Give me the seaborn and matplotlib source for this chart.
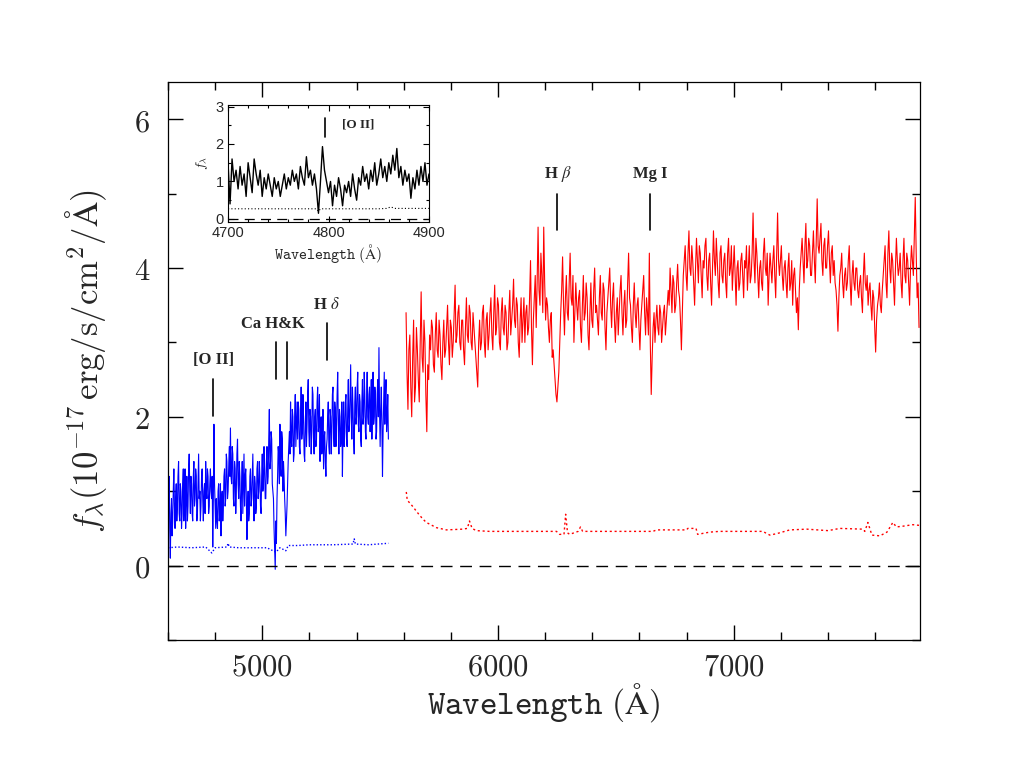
import numpy as np
import pandas as pd
import matplotlib
matplotlib.use("Agg")
import matplotlib.pyplot as plt
from matplotlib.ticker import MultipleLocator, FuncFormatter
import seaborn as sns

# ---------------- data ----------------
# blue arm: samples every 5 A from 4600, plus the samples half-way between them
blue_start, blue_step = 4600, 5
blue_flux = [
    0.3, 1.2, 0.1, 0.9, 0.6, 1.3, 0.5, 1.1, 0.8, 1.4, 0.6, 1.0, 0.7, 1.3, 0.9, 0.5, 1.2, 0.8, 1.5, 0.7,
    1.1, 0.6, 1.4, 0.9, 1.2, 0.7, 1.5, 1.0, 0.8, 1.3, 0.6, 1.1, 1.4, 0.9, 1.2, 0.8, 1.3,
    0.9, 0.25, 1.9, 0.8,
    0.9, 0.5, 1.1, 0.7, 0.4, 1.0, 0.8, 1.3, 0.9, 1.4, 1.0, 1.6,
    1.85, 1.1, 1.5, 0.8, 1.3, 1.0, 1.7, 0.9, 1.2, 0.6, 1.4, 1.1, 0.8, 1.3,
    0.35, 1.0, 0.7, 1.3, 0.9, 1.5, 0.6, 1.1, 0.8, 1.4, 1.0, 1.2, 0.7, 1.5, 1.1, 1.3, 0.9, 1.6, 1.2,
    2.1, 1.4, 1.7, 1.0,
    0.5, -0.05, 0.3, 1.2,
    1.5, 1.9, 1.2, 1.7, 1.4, 0.9,
    0.4, 0.8, 1.4,
    1.8, 2.2, 1.6, 2.0, 1.5, 2.3, 1.9,
    1.7, 2.1, 1.5, 2.4, 1.8, 2.0, 1.4, 2.2, 1.9, 2.5,
    1.6, 2.0, 1.8, 2.3, 1.5, 2.1, 1.7, 2.4, 1.9, 1.4,
    2.0, 1.6, 1.3, 1.8, 1.2, 1.7, 2.2, 1.5, 2.0, 1.8,
    2.4, 1.6, 2.1, 1.9, 2.6, 1.5, 2.0, 1.7, 1.2, 2.2,
    1.8, 2.3, 1.6, 2.5, 1.9, 2.7, 1.7, 2.1, 1.5, 2.4,
    2.0, 2.6, 1.8, 2.2, 1.6, 2.5, 2.0, 2.3, 1.7, 2.6,
    1.9, 2.4, 2.1, 1.7, 2.6, 2.0, 2.3, 1.8, 2.5, 2.93,
    1.6, 2.4, 1.2, 2.2, 1.9, 2.5, 2.0, 1.7,
]
blue_flux_mid = [
    0.9, 0.5, 0.7, 0.4, 1.0, 0.8, 0.9, 0.6, 1.2, 0.7, 1.1, 0.5, 1.1, 0.6, 1.3, 0.9, 0.6, 1.3, 1.0, 1.2,
    0.7, 1.2, 0.8, 1.3, 0.6, 1.1, 0.9, 0.6, 1.2, 0.9, 1.0, 0.7, 1.0, 1.3, 0.7, 1.1, 1.0,
    1.2, 0.9, 1.1, 0.5,
    0.6, 1.0, 0.6, 1.1, 0.9, 0.6, 1.2, 0.8, 1.5, 0.9, 1.3, 1.2,
    1.2, 1.6, 0.9, 1.4, 0.7, 1.5, 1.1, 1.4, 0.8, 1.1, 0.7, 1.5, 1.2, 0.9,
    0.8, 0.6, 1.2, 0.8, 1.2, 0.9, 1.2, 0.7, 1.3, 0.9, 1.4, 0.8, 1.2, 1.0, 1.6, 0.9, 1.4, 1.1, 1.7,
    1.3, 1.8, 1.1, 0.9,
    0.2, 0.6, 0.9, 1.6,
    1.1, 1.3, 1.8, 1.0, 1.2, 0.7,
    0.6, 1.1, 1.6,
    1.5, 1.7, 2.1, 1.4, 2.0, 1.6, 2.2,
    2.2, 1.6, 2.0, 1.7, 2.3, 1.5, 1.9, 1.6, 2.3, 1.8,
    2.1, 1.5, 2.4, 1.7, 2.0, 1.6, 2.2, 1.8, 2.3, 1.9,
    1.5, 2.1, 1.7, 1.4, 1.6, 2.0, 1.6, 2.1, 1.5, 2.3,
    1.8, 2.2, 1.6, 2.3, 1.9, 2.1, 1.6, 2.2, 1.8, 1.6,
    2.2, 1.7, 2.1, 1.8, 2.3, 2.0, 2.4, 1.7, 2.2, 1.9,
    2.4, 1.9, 2.3, 1.7, 2.2, 1.9, 2.6, 1.8, 2.2, 2.0,
    2.3, 1.8, 2.5, 2.2, 1.9, 2.4, 1.7, 2.3, 2.0, 2.1,
    2.1, 1.9, 1.8, 2.6, 2.3, 1.8, 2.3,
]

blue_err_wave = [4600, 4640, 4700, 4760, 4786, 4800, 4850, 4855, 4860, 4900, 4960, 5020,
                 5058, 5075, 5100, 5110, 5150, 5200, 5300, 5385, 5390, 5395, 5450, 5535]
blue_err = [0.24, 0.25, 0.24, 0.25, 0.17, 0.24, 0.25, 0.3, 0.25, 0.24, 0.24, 0.24,
            0.18, 0.24, 0.20, 0.27, 0.27, 0.28, 0.28, 0.29, 0.36, 0.29, 0.28, 0.30]

# red arm: samples every 8 A from 5610, plus the samples half-way between them
red_start, red_step = 5610, 8
red_flux = [
    3.4, 2.1, 3.1, 2.0, 3.3, 2.4, 2.9, 2.2, 3.68, 2.6, 3.0, 1.8, 2.5,
    2.9, 3.2, 2.6, 3.4, 2.8, 3.1, 2.5, 3.3, 2.9, 3.5, 2.7, 3.2, 3.0, 3.77,
    3.1, 3.5, 2.9, 3.3, 2.7, 3.6, 3.0, 3.4, 2.9, 3.2,
    2.8, 2.4, 3.3, 3.0, 3.5, 2.8, 3.4, 3.1, 3.6, 2.9,
    3.77, 3.2, 3.5, 2.9, 3.6, 3.1, 3.4, 3.0, 3.7, 3.3,
    3.85, 3.2, 3.5, 2.8, 3.6, 3.3, 3.0, 3.5, 3.2,
    4.1, 2.7, 3.6, 3.2, 4.55, 3.5, 3.9, 4.55, 3.3,
    3.5, 3.0, 3.4, 2.9,
    2.5, 2.2, 2.6,
    3.4, 4.15, 3.1, 3.9, 3.3, 4.2, 3.5, 3.0, 3.8,
    3.3, 3.7, 3.0, 3.9, 3.4, 3.6, 2.9, 3.8, 3.2, 4.0,
    3.5, 3.1, 3.9, 3.3, 3.7, 2.9, 3.6, 4.0, 3.2, 3.8,
    3.0, 3.6, 3.4, 3.9, 3.1, 3.7, 3.3, 4.2, 3.5, 3.0,
    3.8, 3.2, 3.6, 2.9, 3.5, 3.9, 3.1, 3.4, 4.2,
    2.3,
    3.2, 3.0, 3.5, 3.1, 3.4, 3.2, 3.5, 3.3,
    3.7, 4.0, 3.4, 3.8, 3.5, 4.05, 3.6, 2.9, 3.9,
    4.3, 3.7, 4.5, 3.9, 4.1, 3.5, 4.4, 3.8, 4.2, 3.6,
    4.0, 4.4, 3.7, 4.2, 3.5, 4.5, 3.9, 4.1, 3.6, 4.3,
    3.8, 4.2, 3.6, 4.4, 4.0, 3.7, 4.3, 3.5, 4.1, 3.8,
    4.2, 3.6, 4.0, 3.7, 4.3, 3.9, 4.74, 3.8, 4.2, 3.6,
    4.1, 3.7, 4.4, 3.9, 3.5, 4.2, 3.8, 4.3, 3.6, 4.74,
    3.9, 4.3, 3.7, 4.1, 3.6, 4.2, 3.8, 3.5, 4.0, 3.4,
    3.17,
    4.0, 4.4, 3.8, 4.6, 4.1, 4.3, 3.9, 4.5, 3.8, 4.93,
    4.2, 4.6, 3.9, 4.4, 4.0, 4.5, 3.8, 4.3, 4.1, 3.7,
    3.15,
    3.9, 4.2, 3.6, 4.0, 3.8, 4.3, 3.5, 4.1, 3.7, 4.0,
    3.6, 3.9, 3.4, 4.2, 3.7, 3.5, 3.8, 3.3, 3.6, 2.87,
    3.5, 3.8, 3.4,
    3.9, 4.3, 3.6, 4.5, 3.8, 4.1, 3.5, 4.4, 3.9, 4.2,
    3.6, 4.4, 3.8, 4.1, 3.5, 4.3, 3.9, 4.95, 3.6, 3.2,
]
red_flux_mid = [
    2.6, 2.9, 2.4, 2.8, 2.2, 3.2, 2.5, 3.0, 2.8, 3.3, 2.3, 2.7, 3.1,
    3.3, 2.7, 3.1, 2.9, 3.3, 2.7, 3.0, 2.8, 3.2, 3.0, 3.3, 2.8, 3.4, 3.0,
    3.4, 3.0, 3.3, 2.9, 3.2, 3.1, 3.5, 3.0, 3.4, 3.0,
    2.6, 3.0, 2.9, 3.4, 3.0, 3.3, 2.9, 3.4, 3.1, 3.4,
    3.1, 3.6, 3.0, 3.4, 3.2, 3.5, 2.9, 3.4, 3.1, 3.5,
    3.3, 3.6, 3.0, 3.3, 3.0, 3.6, 3.4, 3.1, 3.6,
    3.2, 3.3, 3.9, 3.8, 3.7, 4.2, 3.4, 3.8, 3.6,
    3.2, 3.3, 2.8, 2.7,
    2.3, 2.4, 3.0,
    3.7, 3.5, 3.6, 3.4, 3.8, 3.6, 3.9, 3.4, 3.5,
    3.6, 3.2, 3.5, 3.3, 3.8, 3.1, 3.4, 3.3, 3.7, 3.4,
    3.3, 3.6, 3.4, 3.8, 3.2, 3.4, 3.8, 3.5, 3.6, 3.3,
    3.4, 3.1, 3.7, 3.4, 3.5, 3.2, 3.8, 3.6, 3.2, 3.5,
    3.4, 3.5, 3.2, 3.3, 3.7, 3.4, 3.6, 3.1, 3.0,
    2.8,
    3.4, 3.3, 3.2, 3.5, 3.0, 3.4, 3.1, 3.5,
    3.5, 3.7, 3.9, 3.4, 3.8, 3.7, 3.3, 3.4, 4.1,
    3.9, 4.2, 4.0, 4.3, 3.8, 4.0, 4.1, 4.3, 3.9, 4.1,
    4.3, 3.9, 4.1, 3.8, 4.0, 4.1, 4.4, 3.8, 4.2, 3.9,
    4.1, 3.8, 4.2, 3.9, 4.3, 4.0, 3.9, 4.0, 3.7, 4.1,
    3.9, 4.1, 4.3, 4.0, 3.8, 4.2, 4.1, 4.4, 3.9, 4.0,
    3.8, 4.2, 4.0, 4.2, 3.9, 4.0, 4.1, 3.9, 4.2, 4.1,
    4.1, 3.9, 4.0, 3.8, 4.0, 3.7, 4.1, 3.9, 3.7, 3.6,
    3.7,
    4.2, 4.1, 4.3, 4.0, 4.4, 3.9, 4.2, 4.1, 4.4, 4.3,
    4.4, 4.1, 4.3, 4.0, 4.3, 4.1, 4.2, 3.9, 3.8, 3.5,
    3.6,
    4.0, 3.8, 3.9, 3.7, 4.1, 3.8, 3.9, 3.8, 4.0, 3.7,
    3.8, 3.6, 3.9, 3.8, 3.9, 3.7, 3.5, 3.7, 3.2, 3.3,
    3.6, 3.5, 3.7,
    4.1, 3.8, 4.2, 4.0, 4.2, 3.8, 4.0, 4.1, 4.0, 3.8,
    4.1, 3.9, 4.2, 3.8, 4.0, 4.1, 4.4, 4.2, 3.8,
]

red_err_wave = [5611, 5615, 5637, 5659, 5680, 5696, 5739, 5781, 5849, 5870, 5879, 5890, 5908,
                5964, 6100, 6248, 6261, 6280, 6287, 6295, 6304, 6340, 6350, 6359, 6657,
                6673, 6800, 6805, 6840, 6847, 6898, 6940, 7123, 7153, 7183, 7238, 7310,
                7400, 7450, 7548, 7556, 7569, 7586, 7620, 7650, 7675, 7690, 7718, 7760, 7790]
red_err = [0.99, 0.88, 0.80, 0.71, 0.63, 0.58, 0.51, 0.48, 0.49, 0.50, 0.60, 0.50, 0.47,
           0.46, 0.46, 0.46, 0.42, 0.42, 0.69, 0.44, 0.42, 0.46, 0.52, 0.46, 0.46,
           0.48, 0.48, 0.50, 0.50, 0.42, 0.45, 0.46, 0.46, 0.41, 0.43, 0.48, 0.49,
           0.47, 0.50, 0.49, 0.46, 0.58, 0.41, 0.40, 0.45, 0.58, 0.52, 0.53, 0.55, 0.54]

inset_start, inset_step = 4700, 2
inset_flux = [
    1.5, 0.4, 1.6, 1.0, 1.3, 0.8, 1.4, 0.9, 1.2, 0.6,
    1.5, 1.1, 0.7, 1.6, 1.2, 0.9, 1.3, 0.6, 1.1, 0.8,
    1.2, 0.9, 0.6, 1.1, 0.8, 1.0, 0.6, 0.9, 1.2, 0.8,
    1.1, 0.9, 1.3, 1.0, 1.2, 0.8, 1.4, 1.1, 0.9, 1.66,
    1.1, 1.3, 0.9, 1.2, 0.8, 0.15, 1.0, 1.93, 1.3, 1.0,
    0.7, 1.0, 0.35, 0.9, 0.6, 1.1, 0.8, 0.35, 0.9, 0.7,
    1.0, 0.6, 1.2, 0.8, 0.5, 1.1, 0.9, 1.4, 1.0, 1.2,
    0.8, 1.3, 1.0, 1.5, 0.9, 1.2, 1.6, 1.1, 1.4, 1.0,
    1.5, 1.2, 1.7, 1.3, 1.88, 1.1, 1.4, 0.9, 1.3, 1.0,
    1.2, 0.55, 1.1, 0.8, 1.3, 0.9, 1.4, 1.0, 1.5, 0.9,
    1.2,
]
inset_err_wave = [4700, 4788, 4790, 4792, 4850, 4858, 4862, 4866, 4900]
inset_err = [0.27, 0.27, 0.2, 0.27, 0.27, 0.28, 0.32, 0.28, 0.28]

# spectral feature markers
feat_labels = ["[O II]", "Ca H&K", r"H $\delta$", r"H $\beta$", "Mg I"]
feat_text_x = [4792, 5047, 5274, 6255, 6645]
feat_text_y = [2.77, 3.25, 3.50, 5.27, 5.27]
feat_mark_x = [[4792], [5058, 5103], [5275], [6251], [6643]]
feat_mark_lo = [2.01, 2.51, 2.76, 4.51, 4.51]
feat_mark_hi = [2.51, 3.01, 3.26, 5.00, 5.00]


def arm_frame(start, step, flux, flux_mid):
    w1 = start + step * np.arange(len(flux))
    w2 = start + step / 2 + step * np.arange(len(flux_mid))
    df = pd.DataFrame({"wave": np.concatenate([w1, w2]),
                       "flux": np.concatenate([flux, flux_mid])})
    return df.sort_values("wave").reset_index(drop=True)


blue_df = arm_frame(blue_start, blue_step, blue_flux, blue_flux_mid)
red_df = arm_frame(red_start, red_step, red_flux, red_flux_mid)
inset_df = pd.DataFrame({"wave": inset_start + inset_step * np.arange(len(inset_flux)),
                         "flux": inset_flux})

# ---------------- style ----------------
sns.set_style("ticks")
plt.rcParams["font.family"] = ["DejaVu Serif", "DejaVu Sans"]
plt.rcParams["mathtext.fontset"] = "cm"
plt.rcParams["axes.edgecolor"] = "black"
plt.rcParams["axes.linewidth"] = 0.9

fig = plt.figure(figsize=(10.18, 7.61), dpi=100)
ax = fig.add_axes([0.165, 0.159, 0.7387, 0.7332])

sns.lineplot(data=blue_df, x="wave", y="flux", ax=ax, color="#0000ff", lw=0.8,
             estimator=None, sort=False, legend=False)
sns.lineplot(x=blue_err_wave, y=blue_err, ax=ax, color="#0000ff", lw=1.0,
             linestyle=(0, (1, 1.5)), estimator=None, sort=False, legend=False)
sns.lineplot(data=red_df, x="wave", y="flux", ax=ax, color="#ff0000", lw=0.8,
             estimator=None, sort=False, legend=False)
sns.lineplot(x=red_err_wave, y=red_err, ax=ax, color="#ff0000", lw=1.0,
             linestyle=(0, (1.5, 2)), estimator=None, sort=False, legend=False)
ax.axhline(0, color="black", lw=1.0, linestyle=(0, (8.5, 5.5)))

for lab, tx, ty, mxs, lo, hi in zip(feat_labels, feat_text_x, feat_text_y,
                                    feat_mark_x, feat_mark_lo, feat_mark_hi):
    for mx in mxs:
        ax.plot([mx, mx], [lo, hi], color="black", lw=1.2)
    ax.text(tx, ty, lab, ha="center", va="center", fontsize=12, fontweight="bold",
            family="Liberation Serif", math_fontfamily="stix")

tt_fmt = FuncFormatter(lambda v, pos: r"$\mathtt{%d}$" % round(v))
ax.set_xlim(4600, 7790)
ax.set_ylim(-1, 6.5)
ax.xaxis.set_major_locator(MultipleLocator(1000))
ax.xaxis.set_minor_locator(MultipleLocator(200))
ax.yaxis.set_major_locator(MultipleLocator(2))
ax.yaxis.set_minor_locator(MultipleLocator(1))
ax.xaxis.set_major_formatter(tt_fmt)
ax.yaxis.set_major_formatter(tt_fmt)
ax.tick_params(which="both", direction="in", top=True, right=True, color="black")
ax.tick_params(which="major", length=11, width=1.0, labelsize=22, pad=8)
ax.tick_params(which="minor", length=5.5, width=1.0)
ax.tick_params(axis="y", which="major", pad=13)
ax.set_xlabel(r"$\mathtt{Wavelength\ (\AA)}$", fontsize=24, labelpad=-1)
ax.set_ylabel(r"$f_\lambda(10^{-17}\,\mathrm{erg/s/cm^2/\AA})$", fontsize=25, labelpad=18)
for s in ax.spines.values():
    s.set_visible(True)
    s.set_color("black")

# ---------------- inset ----------------
axi = fig.add_axes([0.224, 0.7089, 0.1974, 0.1531])
sns.lineplot(data=inset_df, x="wave", y="flux", ax=axi, color="black", lw=1.0,
             estimator=None, sort=False, legend=False)
sns.lineplot(x=inset_err_wave, y=inset_err, ax=axi, color="black", lw=0.8,
             linestyle=(0, (1, 2)), estimator=None, sort=False, legend=False)
axi.axhline(0, color="black", lw=0.9, linestyle=(0, (8, 5)))
axi.plot([4797, 4797], [2.19, 2.69], color="black", lw=1.2)
axi.text(4830, 2.52, "[O II]", ha="center", va="center", fontsize=9.5, fontweight="bold",
         family="Liberation Serif")
axi.set_xlim(4700, 4900)
axi.set_ylim(-0.07, 3.04)
axi.xaxis.set_major_locator(MultipleLocator(100))
axi.xaxis.set_minor_locator(MultipleLocator(20))
axi.yaxis.set_major_locator(MultipleLocator(1))
axi.yaxis.set_minor_locator(MultipleLocator(0.5))
axi.tick_params(which="both", direction="in", top=True, right=True, color="black")
axi.tick_params(which="major", length=4, width=0.8, labelsize=10.5, pad=3)
axi.tick_params(which="minor", length=2, width=0.8)
for lab in axi.get_xticklabels() + axi.get_yticklabels():
    lab.set_family("Liberation Sans")
axi.set_xlabel(r"$\mathtt{Wavelength\ (\AA)}$", fontsize=11, labelpad=2)
axi.set_ylabel(r"$f_\lambda$", fontsize=10, labelpad=4)
for s in axi.spines.values():
    s.set_visible(True)
    s.set_color("black")
    s.set_linewidth(0.8)

fig.savefig("out.png", dpi=100)
